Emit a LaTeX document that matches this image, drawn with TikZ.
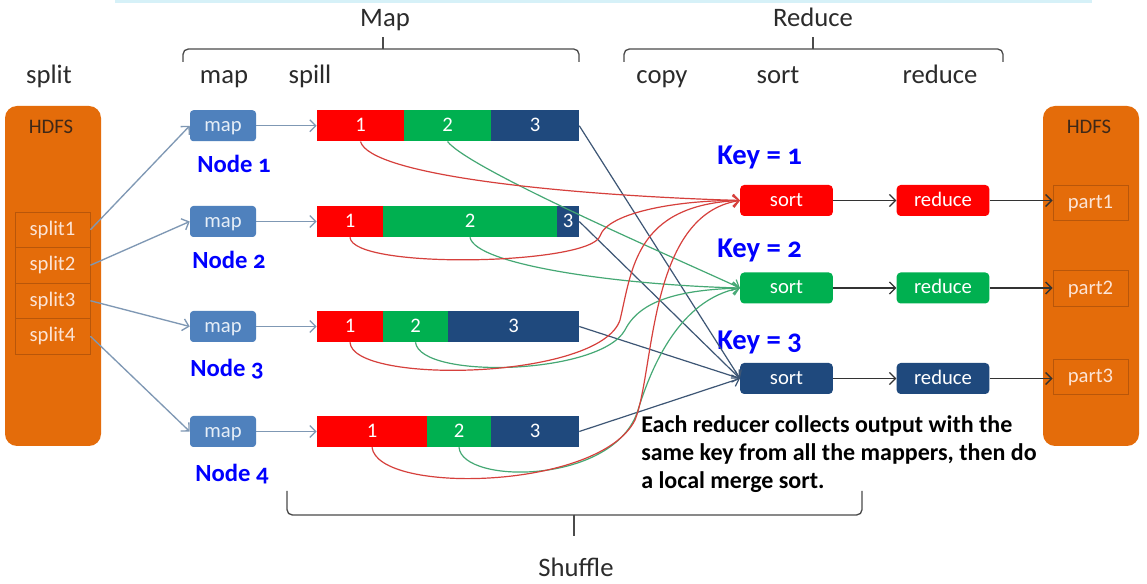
\documentclass[tikz,border=0pt]{standalone}
\usepackage{fontspec}
\setmainfont{Carlito}
\newfontfamily\numfont[Numbers=OldStyle]{Carlito}
\usetikzlibrary{arrows.meta}
\definecolor{hdfs}{HTML}{E46C0A}
\definecolor{hdfsborder}{HTML}{B8560A}
\definecolor{hdfstext}{HTML}{3E2818}
\definecolor{splittext}{HTML}{FCE4D6}
\definecolor{mapblue}{HTML}{4F81BD}
\definecolor{maptext}{HTML}{E6EEF7}
\definecolor{arrowblue}{HTML}{7F98B4}
\definecolor{segred}{HTML}{FF0000}
\definecolor{seggreen}{HTML}{00B050}
\definecolor{segblue}{HTML}{1F497D}
\definecolor{curvered}{HTML}{D6403C}
\definecolor{curvegreen}{HTML}{45A874}
\definecolor{lineblue}{HTML}{3D5675}
\definecolor{darkarrow}{HTML}{333333}
\definecolor{hdrtext}{HTML}{2B2B2B}
\definecolor{topline}{HTML}{D6F1F8}
\begin{document}
\begin{tikzpicture}[x=0.75pt,y=-0.75pt,
  boxfont/.style={font=\fontsize{15.5}{18}\selectfont, text height=11pt, text depth=2.6pt},
  hdfsbox/.style={fill=hdfs, rounded corners=9pt, minimum width=72pt, minimum height=255pt, inner sep=0pt},
  hdfslabel/.style={boxfont, text=hdfstext, inner sep=0pt},
  splitbox/.style={boxfont, draw=hdfsborder, line width=0.6pt, fill=hdfs, text=splittext, minimum width=56.25pt, minimum height=26.6pt, inner sep=0pt},
  mapbox/.style={boxfont, fill=mapblue, rounded corners=2.5pt, minimum width=49.5pt, minimum height=23.25pt, text=maptext, inner sep=0pt},
  seg/.style={boxfont, minimum height=23.25pt, inner sep=0pt, text=white},
  procbox/.style={boxfont, rounded corners=3pt, minimum width=69.5pt, minimum height=23.25pt, text=white, inner sep=0pt},
  hdr/.style={font=\fontsize{20}{24}\selectfont, text=hdrtext, inner sep=0pt, anchor=base},
  nodelbl/.style={font=\numfont\bfseries\fontsize{18.5}{22}\selectfont, text=blue, inner sep=0pt, anchor=base west},
  keylbl/.style={font=\numfont\bfseries\fontsize{21.5}{26}\selectfont, text=blue, inner sep=0pt, anchor=base west},
  tip/.style={-{Straight Barb[length=4.5pt,width=9pt]}},
  maparrow/.style={tip, draw=arrowblue, line width=1pt},
  redflow/.style={tip, draw=curvered, line width=0.9pt},
  greenflow/.style={tip, draw=curvegreen, line width=0.9pt},
  blueflow/.style={tip, draw=lineblue, line width=0.9pt},
  darrow/.style={tip, draw=darkarrow, line width=1pt},
  bracestyle/.style={draw=hdrtext!85, line width=1pt, rounded corners=4pt}
]
\useasboundingbox (0,0) rectangle (1147,584);
\fill[white] (0,0) rectangle (1147,584);
\draw[topline, line width=2.5pt] (115,1) -- (1092,1);

% headers
\node[hdr] (tmap) at (385,27) {Map};
\node[hdr] (tred) at (813,27) {Reduce};
\node[hdr] (tsplit) at (49,84) {split};
\node[hdr] (tmapp) at (224,84) {map};
\node[hdr] (tspill) at (310,84) {spill};
\node[hdr] (tcopy) at (662,84) {copy};
\node[hdr] (tsort) at (778,84) {sort};
\node[hdr] (treduce) at (940,84) {reduce};
\node[hdr] (tshuffle) at (576,577) {Shuffle};

% braces
\draw[bracestyle] (183,62) |- (383,49);
\draw[bracestyle] (383,49) -| (579,62);
\draw[bracestyle] (383,49) -- (383,37);
\draw[bracestyle] (624,62) |- (813,49);
\draw[bracestyle] (813,49) -| (1003,62);
\draw[bracestyle] (813,49) -- (813,37);
\draw[bracestyle] (287,491) |- (574,515);
\draw[bracestyle] (574,515) -| (862,491);
\draw[bracestyle] (574,515) -- (574,536);

% HDFS left
\node[hdfsbox] (hdfsL) at (53,276) {};
\node[hdfslabel] (hdfsLt) at (51,128) {HDFS};
\node[splitbox] (sp1) at (52.5,229.75) {split1};
\node[splitbox] (sp2) at (52.5,265.25) {split2};
\node[splitbox] (sp3) at (52.5,300.75) {split3};
\node[splitbox] (sp4) at (52.5,336.25) {split4};

% HDFS right
\node[hdfsbox] (hdfsR) at (1091,276) {};
\node[hdfslabel] (hdfsRt) at (1089,128) {HDFS};
\node[splitbox] (p1) at (1090.5,203) {part1};
\node[splitbox] (p2) at (1090.5,288.5) {part2};
\node[splitbox] (p3) at (1090.5,377) {part3};

% map boxes
\node[mapbox] (m1) at (223,125.75) {map};
\node[mapbox] (m2) at (223,221.5) {map};
\node[mapbox] (m3) at (223,326.5) {map};
\node[mapbox] (m4) at (223,431.5) {map};

% node labels
\node[nodelbl] (n1) at (197,173) {Node 1};
\node[nodelbl] (n2) at (192,269) {Node 2};
\node[nodelbl] (n3) at (190,377) {Node 3};
\node[nodelbl] (n4) at (195,482) {Node 4};

% spill bars
\node[seg, fill=segred, minimum width=65.25pt] (r1) at (360.5,125.75) {1};
\node[seg, fill=seggreen, minimum width=65.25pt] (g1) at (447.5,125.75) {2};
\node[seg, fill=segblue, minimum width=66pt] (b1) at (535,125.75) {3};

\node[seg, fill=segred, minimum width=49.5pt] (r2) at (350,221.5) {1};
\node[seg, fill=seggreen, minimum width=130.5pt] (g2) at (470,221.5) {2};
\node[seg, fill=segblue, minimum width=16.5pt] (b2) at (568,221.5) {3};

\node[seg, fill=segred, minimum width=49.5pt] (r3) at (350,326.5) {1};
\node[seg, fill=seggreen, minimum width=48.75pt] (g3) at (415.5,326.5) {2};
\node[seg, fill=segblue, minimum width=98.25pt] (b3) at (513.5,326.5) {3};

\node[seg, fill=segred, minimum width=82.5pt] (r4) at (372,431.5) {1};
\node[seg, fill=seggreen, minimum width=48pt] (g4) at (459,431.5) {2};
\node[seg, fill=segblue, minimum width=66pt] (b4) at (535,431.5) {3};

% key labels
\node[keylbl] (k1) at (717,165) {Key = 1};
\node[keylbl] (k2) at (717,258) {Key = 2};
\node[keylbl] (k3) at (717,350) {Key = 3};

% sort and reduce
\node[procbox, fill=segred] (s1) at (786.5,200.5) {sort};
\node[procbox, fill=seggreen] (s2) at (786.5,288) {sort};
\node[procbox, fill=segblue] (s3) at (786.5,378.5) {sort};
\node[procbox, fill=segred] (rd1) at (943,200.5) {reduce};
\node[procbox, fill=seggreen] (rd2) at (943,288) {reduce};
\node[procbox, fill=segblue] (rd3) at (943,378.5) {reduce};

% explanation
\node[anchor=north west, align=left, inner sep=0pt, font=\bfseries\fontsize{18}{21}\selectfont, text=black] (expl) at (641,415)
  {Each reducer collects output with the\\same key from all the mappers, then do\\a local merge sort.};

% split -> map
\draw[maparrow] (sp1.east) -- (m1.west);
\draw[maparrow] (sp2.east) -- (m2.west);
\draw[maparrow] (sp3.east) -- (m3.west);
\draw[maparrow] (sp4.east) -- (m4.west);
% map -> spill
\draw[maparrow] (m1.east) -- (r1.west);
\draw[maparrow] (m2.east) -- (r2.west);
\draw[maparrow] (m3.east) -- (r3.west);
\draw[maparrow] (m4.east) -- (r4.west);

% blue lines
\draw[blueflow] (b1.east) -- (s3.west);
\draw[blueflow] (b2.east) -- (s3.west);
\draw[blueflow] (b3.east) -- (s3.west);
\draw[blueflow] (b4.east) -- (s3.west);

% green curves
\draw[greenflow] (g1.south) .. controls (470,170) and (680,260) .. (s2.west);
\draw[greenflow] (g2.south) .. controls (475,265) and (620,285) .. (s2.west);
\draw[greenflow] (g3.south) .. controls (420,380) and (600,375) .. (625,330) .. controls (640,300) and (680,290) .. (s2.west);
\draw[greenflow] (g4.south) .. controls (462,485) and (615,485) .. (638,410) .. controls (652,365) and (680,300) .. (s2.west);

% red curves
\draw[redflow] (r1.south) .. controls (370,175) and (560,195) .. (s1.west);
\draw[redflow] (r2.south) .. controls (352,270) and (590,265) .. (600,236) .. controls (608,212) and (680,200) .. (s1.west);
\draw[redflow] (r3.south) .. controls (352,385) and (600,380) .. (620,320) .. controls (632,270) and (635,205) .. (s1.west);
\draw[redflow] (r4.south) .. controls (378,495) and (600,490) .. (635,420) .. controls (655,370) and (648,215) .. (s1.west);

% sort -> reduce -> part
\draw[darrow] (s1.east) -- (rd1.west);
\draw[darrow] (s2.east) -- (rd2.west);
\draw[darrow] (s3.east) -- (rd3.west);
\draw[darrow] (rd1.east) -- (rd1.east -| p1.west);
\draw[darrow] (rd2.east) -- (rd2.east -| p2.west);
\draw[darrow] (rd3.east) -- (rd3.east -| p3.west);
\end{tikzpicture}
\end{document}
